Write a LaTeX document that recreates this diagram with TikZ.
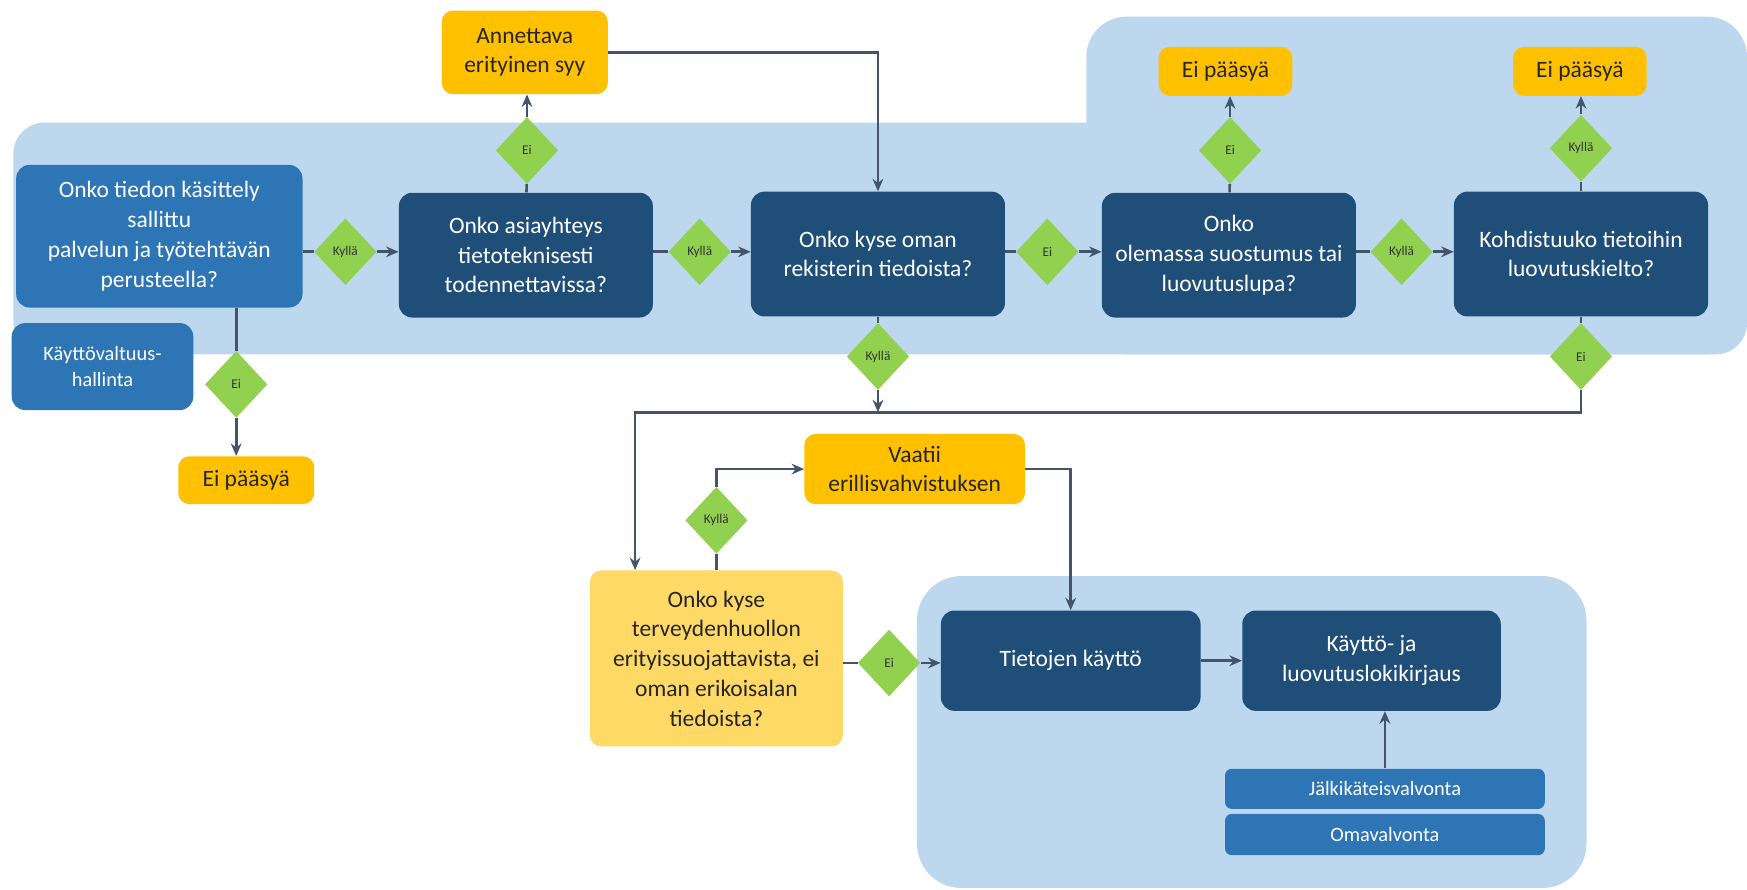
\documentclass[tikz,border=0pt]{standalone}
\usepackage{fontspec}
\setmainfont{Carlito}
\usetikzlibrary{arrows.meta,positioning,shapes.geometric}
\definecolor{bgblue}{HTML}{BDD7EE}
\definecolor{darkblue}{HTML}{1F4E79}
\definecolor{midblue}{HTML}{2E75B6}
\definecolor{amber}{HTML}{FFC000}
\definecolor{paleamber}{HTML}{FFD966}
\definecolor{leaf}{HTML}{92D050}
\definecolor{linegray}{HTML}{44546A}
\begin{document}
\begin{tikzpicture}[x=0.25mm,y=-0.25mm,>={Stealth[length=2.8mm,width=2.4mm]},
    box/.style={rounded corners=3mm,align=center,inner sep=2pt,text=white,
      font=\fontsize{15}{19}\selectfont},
    dark/.style={box,fill=darkblue,minimum width=57mm,minimum height=28mm},
    mid/.style={box,fill=midblue},
    note/.style={box,fill=amber,text=black!85,rounded corners=2.5mm},
    dec/.style={diamond,fill=leaf,inner sep=0pt,minimum width=14mm,
      minimum height=15mm,text=black!80,font=\fontsize{8.5}{10}\selectfont},
    con/.style={draw=linegray,line width=0.6mm},
    arr/.style={con,->}]
    \useasboundingbox (0,0) rectangle (1568,798);
    \fill[bgblue,rounded corners=7mm] (12,110) rectangle (1568,318);
    \fill[bgblue,rounded corners=9mm] (975,15) rectangle (1568,318);
    \fill[bgblue,rounded corners=10mm] (823,517) rectangle (1424,797);

    \node[mid,minimum width=64.25mm,minimum height=32mm] (lupa) at (143,212)
      {Onko tiedon käsittely\\sallittu\\palvelun ja työtehtävän\\perusteella?};
    \node[mid,minimum width=40.75mm,minimum height=19.5mm,
      font=\fontsize{13}{17}\selectfont] (valtuus) at (92,329) {Käyttövaltuus-\\hallinta};
    \node[dec] (lupaEi) at (212,345) {Ei};
    \node[note,minimum width=30.5mm,minimum height=10.75mm] (eiLupa) at (221,431) {Ei pääsyä};

    \node[dec] (lupaKylla) at (310,226) {Kyllä};
    \node[dark] (asia) at (472,229) {Onko asiayhteys\\tietoteknisesti\\todennettavissa?};
    \node[dec] (asiaEi) at (473,135) {Ei};
    \node[note,minimum width=37.25mm,minimum height=18.75mm] (syy) at (471,47)
      {Annettava\\erityinen syy};
    \node[dec] (asiaKylla) at (628,226) {Kyllä};
    \node[dark] (oma) at (788,228) {Onko kyse oman\\rekisterin tiedoista?};
    \node[dec] (omaKylla) at (788,320) {Kyllä};
    \node[dec] (omaEi) at (940,226) {Ei};
    \node[dark] (suostumus) at (1103,229) {Onko\\olemassa suostumus tai\\luovutuslupa?};
    \node[dec] (suostumusEi) at (1104,135) {Ei};
    \node[note,minimum width=30mm,minimum height=11mm] (eiSuostumus) at (1100,64) {Ei pääsyä};
    \node[dec] (suostumusKylla) at (1258,226) {Kyllä};
    \node[dark] (kielto) at (1419,228) {Kohdistuuko tietoihin\\luovutuskielto?};
    \node[dec] (kieltoKylla) at (1419,133) {Kyllä};
    \node[note,minimum width=30mm,minimum height=11mm] (eiKielto) at (1418,64) {Ei pääsyä};
    \node[dec] (kieltoEi) at (1419,320) {Ei};
    \coordinate (yhdys) at (788,370);
    \coordinate (kaanne) at (570,370);

    \node[note,fill=paleamber,minimum width=56.75mm,minimum height=39.5mm] (erity) at (643,591)
      {Onko kyse\\terveydenhuollon\\erityissuojattavista, ei\\oman erikoisalan\\tiedoista?};
    \node[dec] (erityKylla) at (643,467) {Kyllä};
    \node[note,minimum width=49.5mm,minimum height=15.75mm] (vahvistus) at (821,421)
      {Vaatii\\erillisvahvistuksen};
    \node[dec] (erityEi) at (798,595) {Ei};
    \node[dark,minimum width=58.25mm,minimum height=22.5mm] (kaytto) at (961,593) {Tietojen käyttö};
    \node[dark,minimum width=58mm,minimum height=22.5mm] (loki) at (1231,593)
      {Käyttö- ja\\luovutuslokikirjaus};
    \node[mid,rounded corners=1.5mm,minimum width=71.75mm,minimum height=9mm,
      font=\fontsize{13}{15}\selectfont] (jalki) at (1243,708) {Jälkikäteisvalvonta};
    \node[mid,rounded corners=1.5mm,minimum width=71.75mm,minimum height=9.25mm,
      font=\fontsize{13}{15}\selectfont] (omaval) [below=1mm of jalki] {Omavalvonta};

    \draw[con] (lupa.south -| lupaEi) -- (lupaEi);
    \draw[arr] (lupaEi) -- (lupaEi |- eiLupa.north);
    \draw[con] (lupa.east |- lupaKylla) -- (lupaKylla);
    \draw[arr] (lupaKylla) -- (asia.west |- lupaKylla);
    \draw[con] (asia) -- (asiaEi);
    \draw[arr] (asiaEi) -- (asiaEi |- syy.south);
    \draw[arr] (syy.east) -| (oma.north);
    \draw[con] (asia.east |- asiaKylla) -- (asiaKylla);
    \draw[arr] (asiaKylla) -- (oma.west |- asiaKylla);
    \draw[con] (oma) -- (omaKylla);
    \draw[arr] (omaKylla) -- (yhdys);
    \draw[con] (oma.east |- omaEi) -- (omaEi);
    \draw[arr] (omaEi) -- (suostumus.west |- omaEi);
    \draw[con] (suostumus) -- (suostumusEi);
    \draw[arr] (suostumusEi) -- (suostumusEi |- eiSuostumus.south);
    \draw[con] (suostumus.east |- suostumusKylla) -- (suostumusKylla);
    \draw[arr] (suostumusKylla) -- (kielto.west |- suostumusKylla);
    \draw[con] (kielto) -- (kieltoKylla);
    \draw[arr] (kieltoKylla) -- (kieltoKylla |- eiKielto.south);
    \draw[con] (kielto) -- (kieltoEi);
    \draw[arr] (kieltoEi) |- (kaanne) -- (kaanne |- erity.north);
    \draw[con] (erity) -- (erityKylla);
    \draw[arr] (erityKylla) |- (vahvistus);
    \draw[arr] (vahvistus.east) -| (kaytto.north);
    \draw[con] (erity.east |- erityEi) -- (erityEi);
    \draw[arr] (erityEi) -- (kaytto.west |- erityEi);
    \draw[arr] (kaytto) -- (loki);
    \draw[arr] (jalki.north) -- (jalki.north |- loki.south);
  \end{tikzpicture}
\end{document}
